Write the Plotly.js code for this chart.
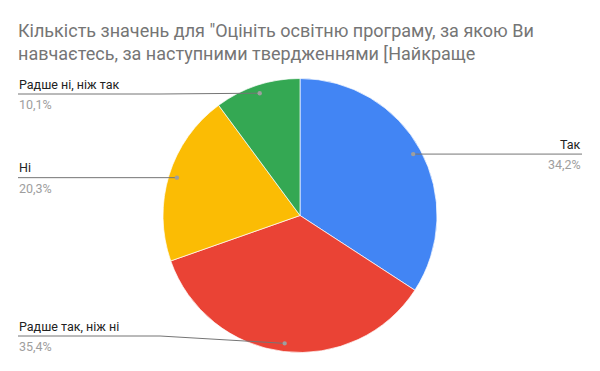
<!DOCTYPE html>
<html>
<head>
<meta charset="utf-8">
<script src="https://cdn.plot.ly/plotly-3.0.1.min.js"></script>
<style>html,body{margin:0;padding:0;background:#fff}#chart{width:600px;height:371px}</style>
</head>
<body>
<div id="chart"></div>
<script>
// Data (order as drawn clockwise from 12 o'clock)
const labels = ["Так", "Радше так, ніж ні", "Ні", "Радше ні, ніж так"];
const counts = [27, 28, 16, 8];
const colors = ["#4285F4", "#EA4335", "#FBBC04", "#34A853"];
const titleText = 'Кількість значень для "Оцініть освітню програму, за якою Ви<br>навчаєтесь, за наступними твердженнями [Найкраще';

const W = 600, H = 371;
const cx = 300, cy = 215.5, R = 137;

const total = counts.reduce((a, b) => a + b, 0);
const pct = counts.map(v => (v / total * 100).toFixed(1).replace('.', ','));

const px = x => x / W;
const py = y => 1 - y / H;

const shapes = [];
const annotations = [];
let cum = 0;
counts.forEach((v, i) => {
  const mid = (cum + v / 2) / total * 2 * Math.PI;
  cum += v;
  const dx = cx + 0.94 * R * Math.sin(mid);
  const dy = cy - 0.94 * R * Math.cos(mid);
  const right = Math.sin(mid) > 0;
  const ly = Math.min(Math.max(dy, 94), 336);
  const lineCol = "#757575";
  if (right) {
    shapes.push({type: "line", xref: "paper", yref: "paper", x0: px(dx), y0: py(dy), x1: px(582), y1: py(ly), line: {color: lineCol, width: 1}});
  } else {
    const bend = 160;
    if (Math.abs(ly - dy) > 0.5) {
      shapes.push({type: "line", xref: "paper", yref: "paper", x0: px(18), y0: py(ly), x1: px(bend), y1: py(ly), line: {color: lineCol, width: 1}});
      shapes.push({type: "line", xref: "paper", yref: "paper", x0: px(bend), y0: py(ly), x1: px(dx), y1: py(dy), line: {color: lineCol, width: 1}});
    } else {
      shapes.push({type: "line", xref: "paper", yref: "paper", x0: px(18), y0: py(ly), x1: px(dx), y1: py(dy), line: {color: lineCol, width: 1}});
    }
  }
  shapes.push({type: "circle", xref: "paper", yref: "paper", x0: px(dx - 2.2), x1: px(dx + 2.2), y0: py(dy - 2.2), y1: py(dy + 2.2), fillcolor: "#9e9e9e", line: {width: 0}});
  const ax = right ? px(583) : px(17);
  const xa = right ? "right" : "left";
  annotations.push({xref: "paper", yref: "paper", x: ax, y: py(ly - 0.5), xanchor: xa, yanchor: "bottom", text: labels[i], showarrow: false, font: {family: "Roboto", size: 12.5, color: "#222222"}});
  annotations.push({xref: "paper", yref: "paper", x: ax, y: py(ly + 1), xanchor: xa, yanchor: "top", text: pct[i] + "%", showarrow: false, font: {family: "Roboto", size: 12.5, color: "#9e9e9e"}});
});

const trace = {
  type: "pie",
  labels: labels,
  values: counts,
  sort: false,
  direction: "clockwise",
  rotation: 0,
  textinfo: "none",
  hoverinfo: "label+percent",
  marker: {colors: colors, line: {color: "#ffffff", width: 0.7}},
  domain: {x: [(cx - R) / W, (cx + R) / W], y: [py(cy + R), py(cy - R)]}
};

const layout = {
  width: W, height: H,
  margin: {l: 0, r: 0, t: 0, b: 0},
  paper_bgcolor: "#ffffff",
  showlegend: false,
  title: {
    text: titleText,
    x: 18 / W, xanchor: "left", xref: "paper",
    y: 1 - 36.5 / H, yanchor: "middle", yref: "container",
    font: {family: "Roboto", size: 18, color: "#757575"}
  },
  shapes: shapes,
  annotations: annotations
};

Plotly.newPlot("chart", [trace], layout, {displayModeBar: false, staticPlot: true});
</script>
</body>
</html>
